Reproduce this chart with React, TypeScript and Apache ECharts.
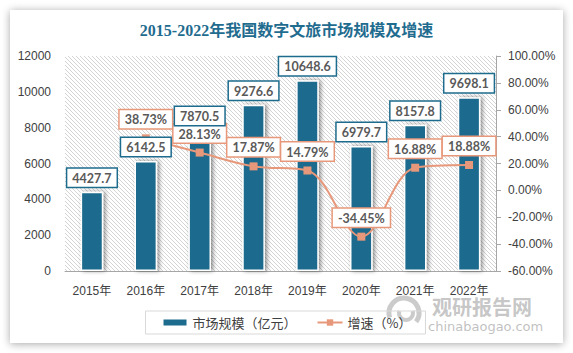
import React, { useEffect, useRef } from "react";
import * as echarts from "echarts";

const categories = ["2015年", "2016年", "2017年", "2018年", "2019年", "2020年", "2021年", "2022年"];
const marketSize = [4427.7, 6142.5, 7870.5, 9276.6, 10648.6, 6979.7, 8157.8, 9698.1];
const growthRate: (number | string)[] = ["-", 38.73, 28.13, 17.87, 14.79, -34.45, 16.88, 18.88];
const titleText = "2015-2022年我国数字文旅市场规模及增速";
const legendNames = ["市场规模（亿元）", "增速（%）"];

const BAR = "#1d6b8d";
const LINE = "#e8987a";

const hatchSvg =
  '<svg xmlns="http://www.w3.org/2000/svg" width="4" height="4">' +
  '<rect width="4" height="4" fill="#ffffff"/>' +
  '<path d="M-1,-1 L5,5 M-1,3 L1,5 M3,-1 L5,1" stroke="#d4d4d4" stroke-width="1"/>' +
  "</svg>";
const hatchUrl = "data:image/svg+xml;charset=utf-8," + encodeURIComponent(hatchSvg);

export default function App() {
  const ref = useRef<HTMLDivElement>(null);
  useEffect(() => {
    if (!ref.current) return;
    const chart = echarts.init(ref.current, undefined, { renderer: "svg" });
    const labelFont = "Lato, 'Open Sans', sans-serif";
    const barLabel = {
      show: true,
      position: "top",
      distance: 5,
      formatter: (p: any) => Number(p.value).toFixed(1),
      color: "#595959",
      fontSize: 12.5,
      fontWeight: "bold",
      fontFamily: labelFont,
      backgroundColor: "#ffffff",
      borderColor: BAR,
      borderWidth: 1.5,
      padding: [3, 5, 2, 5],
    };
    chart.setOption({
      animation: false,
      backgroundColor: "#ffffff",
      title: {
        text: titleText,
        left: "center",
        top: 17,
        textStyle: {
          fontSize: 16,
          fontWeight: "bold",
          color: "#1f6c8f",
          fontFamily: "'Liberation Serif', 'Noto Sans CJK SC', serif",
        },
      },
      graphic: [
        {
          type: "rect",
          z: -10,
          silent: true,
          shape: { x: 10, y: 10, width: 553, height: 333 },
          style: {
            fill: "#ffffff",
            shadowBlur: 8,
            shadowColor: "rgba(0,0,0,0.35)",
            shadowOffsetX: 0,
            shadowOffsetY: 1,
          },
        },
        {
          type: "text",
          z: 0,
          left: 432,
          top: 296,
          silent: true,
          style: {
            text: "观研报告网",
            fontSize: 20,
            fontWeight: "bold",
            fill: "rgba(150,150,150,0.55)",
            fontFamily: "'Noto Sans CJK SC', sans-serif",
          },
        },
        {
          type: "text",
          z: 0,
          left: 428,
          top: 320,
          silent: true,
          style: {
            text: "chinabaogao.com",
            fontSize: 13,
            fill: "rgba(150,150,150,0.6)",
            fontFamily: "'DejaVu Sans', sans-serif",
          },
        },
        {
          type: "arc",
          z: 0,
          silent: true,
          shape: { cx: 404, cy: 313, r: 15, startAngle: Math.PI * 0.9, endAngle: Math.PI * 2.2 },
          style: { stroke: "rgba(160,160,160,0.55)", lineWidth: 5, fill: "none" },
        },
        {
          type: "arc",
          z: 0,
          silent: true,
          shape: { cx: 406, cy: 313, r: 7, startAngle: Math.PI * 1.9, endAngle: Math.PI * 3.1 },
          style: { stroke: "rgba(160,160,160,0.55)", lineWidth: 4, fill: "none" },
        },
      ],
      grid: {
        left: 65,
        right: 77,
        top: 56,
        bottom: 82,
        show: true,
        borderWidth: 0,
        backgroundColor: { image: hatchUrl, repeat: "repeat" },
      },
      legend: {
        left: "center",
        top: 311,
        padding: [5, 14, 5, 16],
        borderColor: "#d9d9d9",
        borderWidth: 1,
        itemGap: 20,
        itemWidth: 25,
        itemHeight: 8,
        textStyle: { fontSize: 13, color: "#404040", fontFamily: "'Noto Sans CJK SC', sans-serif" },
        data: [
          { name: legendNames[0], icon: "rect" },
          { name: legendNames[1] },
        ],
      },
      xAxis: {
        type: "category",
        data: categories,
        axisLine: { lineStyle: { color: "#a6a6a6", width: 1 } },
        axisTick: { show: false },
        axisLabel: {
          color: "#404040",
          fontSize: 12,
          margin: 14,
          fontFamily: "'Liberation Sans', 'Noto Sans CJK SC', sans-serif",
        },
      },
      yAxis: [
        {
          type: "value",
          min: 0,
          max: 12000,
          interval: 2000,
          splitLine: { show: false },
          axisLine: { show: false },
          axisTick: { show: false },
          axisLabel: {
            color: "#404040",
            fontSize: 12,
            margin: 14,
            fontFamily: "'Liberation Sans', sans-serif",
            formatter: (v: number) => String(v),
          },
        },
        {
          type: "value",
          min: -60,
          max: 100,
          interval: 20,
          splitLine: { show: false },
          axisLine: { show: true, lineStyle: { color: "#a6a6a6" } },
          axisTick: { show: true, length: 5, lineStyle: { color: "#a6a6a6" } },
          axisLabel: {
            color: "#404040",
            fontSize: 12,
            margin: 12,
            fontFamily: "'Liberation Sans', sans-serif",
            formatter: (v: number) => v.toFixed(2) + "%",
          },
        },
      ],
      series: [
        {
          name: legendNames[0],
          type: "bar",
          data: marketSize,
          barWidth: "42%",
          itemStyle: {
            color: BAR,
            borderColor: "#ffffff",
            borderWidth: 1.5,
            shadowColor: "rgba(0,0,0,0.45)",
            shadowBlur: 4,
            shadowOffsetX: 2,
            shadowOffsetY: 0,
          },
          label: { show: false },
          z: 2,
        },
        {
          name: legendNames[1],
          type: "line",
          yAxisIndex: 1,
          data: growthRate,
          smooth: 0.35,
          symbol: "rect",
          symbolSize: 8,
          lineStyle: { color: LINE, width: 2 },
          itemStyle: { color: LINE },
          label: {
            show: true,
            position: "top",
            distance: 6,
            formatter: (p: any) => Number(p.value).toFixed(2) + "%",
            color: "#595959",
            fontSize: 12.5,
            fontWeight: "bold",
            fontFamily: labelFont,
            backgroundColor: "#ffffff",
            borderColor: LINE,
            borderWidth: 1.5,
            padding: [3, 5, 2, 5],
          },
          z: 3,
        },
        {
          name: "市场规模标签",
          type: "bar",
          data: marketSize,
          barWidth: "42%",
          barGap: "-100%",
          silent: true,
          itemStyle: { color: "rgba(0,0,0,0)" },
          label: barLabel,
          z: 6,
        },
      ],
    });
    return () => chart.dispose();
  }, []);
  return (
    <div style={{ position: "fixed", left: 0, top: 0, width: 573, height: 353, background: "#ffffff" }}>
      <div ref={ref} style={{ width: 573, height: 353 }} />
    </div>
  );
}
